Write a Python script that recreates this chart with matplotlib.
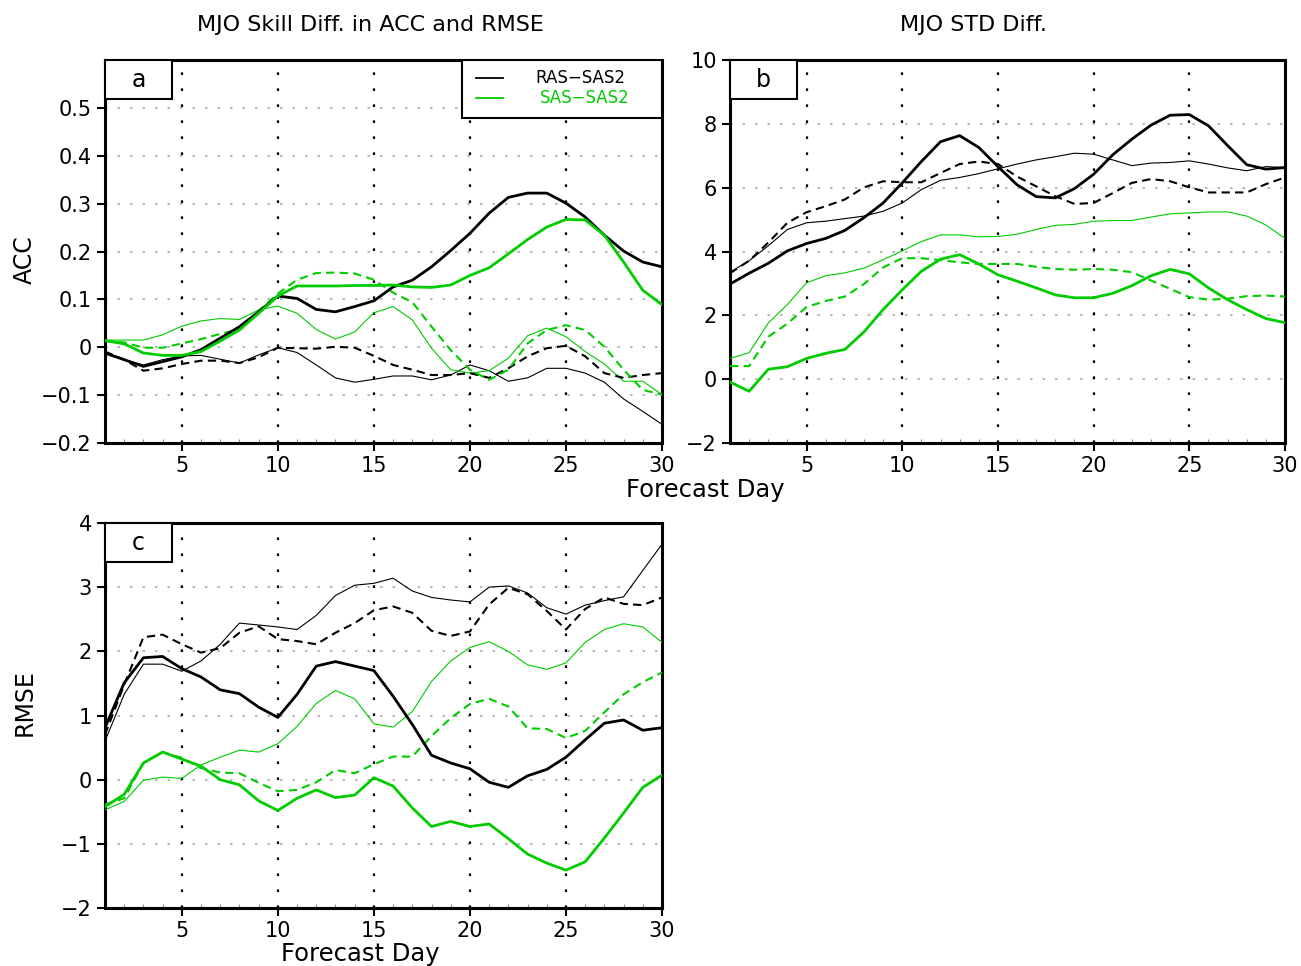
import matplotlib
matplotlib.use("Agg")
import matplotlib.pyplot as plt
from matplotlib.patches import Rectangle
from matplotlib.lines import Line2D
import numpy as np

days = list(range(1, 31))

# Panel a: ACC differences
acc_ras_thick = [-0.012, -0.026, -0.04, -0.03, -0.02, -0.005, 0.019, 0.043, 0.074, 0.107,
                 0.102, 0.079, 0.074, 0.085, 0.097, 0.126, 0.14, 0.168, 0.202, 0.238,
                 0.28, 0.313, 0.322, 0.322, 0.301, 0.272, 0.234, 0.201, 0.178, 0.168]
acc_ras_thin = [-0.014, -0.026, -0.037, -0.026, -0.018, -0.017, -0.025, -0.033, -0.016, -0.001,
                -0.011, -0.037, -0.064, -0.073, -0.067, -0.06, -0.06, -0.068, -0.058, -0.037,
                -0.049, -0.071, -0.064, -0.044, -0.044, -0.054, -0.073, -0.108, -0.134, -0.161]
acc_ras_dash = [-0.009, -0.026, -0.049, -0.044, -0.035, -0.028, -0.028, -0.033, -0.021, -0.001,
                -0.002, -0.003, 0.001, -0.001, -0.018, -0.037, -0.047, -0.058, -0.058, -0.054,
                -0.064, -0.044, -0.019, -0.002, 0.003, -0.019, -0.054, -0.064, -0.058, -0.054]
acc_sas_thick = [0.014, 0.007, -0.012, -0.017, -0.017, -0.009, 0.013, 0.036, 0.071, 0.107,
                 0.128, 0.128, 0.128, 0.129, 0.129, 0.13, 0.126, 0.125, 0.13, 0.15,
                 0.166, 0.195, 0.225, 0.251, 0.267, 0.266, 0.234, 0.178, 0.119, 0.089]
acc_sas_thin = [0.015, 0.015, 0.015, 0.026, 0.044, 0.055, 0.06, 0.058, 0.078, 0.086,
                0.071, 0.037, 0.017, 0.032, 0.072, 0.085, 0.057, -0.002, -0.047, -0.054,
                -0.049, -0.023, 0.024, 0.04, 0.022, -0.009, -0.035, -0.071, -0.071, -0.099]
acc_sas_dash = [0.013, 0.01, -0.001, -0.001, 0.008, 0.017, 0.028, 0.037, 0.076, 0.112,
                0.141, 0.155, 0.156, 0.154, 0.141, 0.114, 0.094, 0.043, -0.006, -0.047,
                -0.068, -0.047, 0.008, 0.036, 0.046, 0.036, 0.001, -0.047, -0.089, -0.099]

# Panel b: STD differences
std_ras_thick = [2.98, 3.32, 3.63, 4.02, 4.25, 4.41, 4.66, 5.06, 5.52, 6.15,
                 6.82, 7.44, 7.63, 7.26, 6.66, 6.09, 5.72, 5.68, 5.97, 6.42,
                 7.03, 7.52, 7.96, 8.27, 8.29, 7.94, 7.32, 6.72, 6.58, 6.63]
std_ras_thin = [3.35, 3.71, 4.18, 4.69, 4.9, 4.95, 5.03, 5.11, 5.26, 5.52,
                5.94, 6.23, 6.32, 6.44, 6.59, 6.74, 6.87, 6.97, 7.08, 7.05,
                6.87, 6.69, 6.77, 6.79, 6.84, 6.74, 6.62, 6.53, 6.66, 6.63]
std_ras_dash = [3.32, 3.71, 4.28, 4.9, 5.23, 5.42, 5.63, 6.01, 6.2, 6.17,
                6.17, 6.46, 6.74, 6.82, 6.74, 6.35, 6.04, 5.73, 5.49, 5.52,
                5.83, 6.15, 6.27, 6.2, 6.01, 5.85, 5.85, 5.85, 6.11, 6.32]
std_sas_thick = [-0.09, -0.38, 0.31, 0.39, 0.65, 0.81, 0.93, 1.48, 2.18, 2.8,
                 3.38, 3.76, 3.9, 3.61, 3.27, 3.07, 2.86, 2.64, 2.55, 2.55,
                 2.69, 2.93, 3.24, 3.44, 3.3, 2.86, 2.49, 2.18, 1.9, 1.77]
std_sas_thin = [0.65, 0.83, 1.76, 2.34, 3.02, 3.24, 3.33, 3.48, 3.74, 4.02,
                4.31, 4.52, 4.52, 4.46, 4.47, 4.54, 4.69, 4.82, 4.85, 4.95,
                4.97, 4.97, 5.08, 5.18, 5.21, 5.24, 5.24, 5.11, 4.83, 4.41]
std_sas_dash = [0.41, 0.41, 1.33, 1.74, 2.26, 2.45, 2.59, 2.98, 3.5, 3.79,
                3.79, 3.73, 3.66, 3.61, 3.61, 3.61, 3.52, 3.45, 3.43, 3.45,
                3.43, 3.35, 3.09, 2.83, 2.57, 2.49, 2.52, 2.6, 2.62, 2.59]

# Panel c: RMSE differences
rmse_ras_thick = [0.81, 1.51, 1.9, 1.92, 1.73, 1.6, 1.4, 1.34, 1.13, 0.97,
                  1.33, 1.77, 1.84, 1.77, 1.7, 1.3, 0.86, 0.38, 0.26, 0.17,
                  -0.04, -0.12, 0.06, 0.16, 0.35, 0.62, 0.88, 0.93, 0.77, 0.81]
rmse_ras_thin = [0.6, 1.33, 1.8, 1.8, 1.69, 1.85, 2.11, 2.44, 2.41, 2.38,
                 2.34, 2.56, 2.87, 3.03, 3.06, 3.14, 2.94, 2.84, 2.8, 2.77,
                 3.0, 3.02, 2.91, 2.68, 2.58, 2.72, 2.79, 2.85, 3.26, 3.67]
rmse_ras_dash = [0.7, 1.48, 2.22, 2.26, 2.11, 1.98, 2.05, 2.29, 2.39, 2.19,
                 2.16, 2.11, 2.29, 2.44, 2.64, 2.7, 2.6, 2.32, 2.24, 2.31,
                 2.73, 2.99, 2.89, 2.63, 2.34, 2.66, 2.84, 2.74, 2.72, 2.84]
rmse_sas_thick = [-0.42, -0.23, 0.26, 0.43, 0.32, 0.21, 0.0, -0.08, -0.33, -0.48,
                  -0.29, -0.16, -0.28, -0.24, 0.03, -0.1, -0.44, -0.73, -0.65, -0.73,
                  -0.69, -0.92, -1.16, -1.3, -1.41, -1.28, -0.91, -0.52, -0.12, 0.07]
rmse_sas_thin = [-0.47, -0.34, -0.01, 0.04, 0.02, 0.23, 0.35, 0.46, 0.43, 0.56,
                 0.83, 1.19, 1.39, 1.26, 0.87, 0.82, 1.06, 1.53, 1.85, 2.06,
                 2.15, 2.0, 1.79, 1.72, 1.82, 2.14, 2.34, 2.43, 2.38, 2.14]
rmse_sas_dash = [-0.39, -0.29, 0.26, 0.43, 0.34, 0.18, 0.11, 0.1, -0.05, -0.18,
                 -0.16, -0.04, 0.15, 0.1, 0.24, 0.36, 0.36, 0.68, 0.96, 1.18,
                 1.26, 1.14, 0.8, 0.79, 0.65, 0.76, 1.05, 1.33, 1.52, 1.67]

x_ticks = [5, 10, 15, 20, 25, 30]
acc_ticks = [-0.2, -0.1, 0, 0.1, 0.2, 0.3, 0.4, 0.5]
acc_labels = ["\u22120.2", "\u22120.1", "0", "0.1", "0.2", "0.3", "0.4", "0.5"]
std_ticks = [-2, 0, 2, 4, 6, 8, 10]
rmse_ticks = [-2, -1, 0, 1, 2, 3, 4]

GREEN = "#00CC00"
TICKFONT = ["Liberation Sans Narrow", "DejaVu Sans"]

W, H = 1301, 966
fig = plt.figure(figsize=(W / 100, H / 100), dpi=100)


def ax_rect(x0, y0, x1, y1):
    return [x0 / W, 1 - y1 / H, (x1 - x0) / W, (y1 - y0) / H]


def fmt_label(v):
    s = ("%g" % v)
    return s.replace("-", "\u2212")


def setup(ax, ylim, yticks, ylabels, letter):
    ax.set_xlim(1, 30)
    ax.set_ylim(*ylim)
    ax.set_xticks(x_ticks)
    ax.set_xticks(days, minor=True)
    ax.set_yticks(yticks)
    ax.set_yticklabels(ylabels, fontfamily=TICKFONT, fontsize=15)
    ax.set_xticklabels([str(t) for t in x_ticks], fontfamily=TICKFONT, fontsize=15)
    ax.tick_params(axis="both", which="major", direction="out", length=6, width=1.5)
    ax.tick_params(axis="x", which="minor", direction="in", length=3, width=0.8, color="#888888")
    for s in ax.spines.values():
        s.set_linewidth(2.2)
    for yv in yticks:
        ax.axhline(yv, color="#aaaaaa", lw=1.2, ls=(0, (1.5, 6)), zorder=1)
    for xv in x_ticks[:-1]:
        ax.axvline(xv, color="black", lw=1.6, ls=(0, (1.2, 6)), zorder=1)
    # panel letter box
    ax.add_patch(Rectangle((0, 1 - 39 / 383), 67 / 557, 39 / 383, transform=ax.transAxes,
                           facecolor="white", edgecolor="black", lw=1.5, zorder=5,
                           clip_on=False))
    ax.text(33.5 / 557, 1 - 19.5 / 383, letter, transform=ax.transAxes, ha="center",
            va="center", fontsize=17, fontfamily="DejaVu Sans", zorder=6)


def plot_six(ax, rt, rn, rd, st, sn, sd):
    ax.plot(days, rn, color="black", lw=0.8, zorder=3)
    ax.plot(days, sn, color=GREEN, lw=0.8, zorder=3)
    ax.plot(days, rd, color="black", lw=1.5, ls=(0, (4, 2.5)), zorder=3)
    ax.plot(days, sd, color=GREEN, lw=1.5, ls=(0, (4, 2.5)), zorder=3)
    ax.plot(days, rt, color="black", lw=2.0, zorder=4)
    ax.plot(days, st, color=GREEN, lw=2.0, zorder=4)


# Panel a
axa = fig.add_axes(ax_rect(105, 60, 662, 443))
setup(axa, (-0.2, 0.6), acc_ticks, acc_labels, "a")
plot_six(axa, acc_ras_thick, acc_ras_thin, acc_ras_dash, acc_sas_thick, acc_sas_thin, acc_sas_dash)
# legend box
lx0, ly0 = (462 - 105) / 557, 1 - (118 - 60) / 383
axa.add_patch(Rectangle((lx0, ly0), 1 - lx0, 1 - ly0, transform=axa.transAxes,
                        facecolor="white", edgecolor="black", lw=1.5, zorder=5))
for yy, col, lab, tx in [(78, "black", "RAS\u2212SAS2", 535), (98, GREEN, "SAS\u2212SAS2", 540)]:
    yfrac = 1 - (yy - 60) / 383
    axa.add_line(Line2D([(476 - 105) / 557, (503 - 105) / 557], [yfrac, yfrac],
                        transform=axa.transAxes, color=col, lw=1.3, zorder=6))
    axa.text((tx - 105) / 557, yfrac, lab, transform=axa.transAxes, color=col,
             fontsize=12, fontfamily=TICKFONT, va="center", ha="left", zorder=6)

# Panel b
axb = fig.add_axes(ax_rect(730, 60, 1285, 443))
setup(axb, (-2, 10), std_ticks, [fmt_label(v) for v in std_ticks], "b")
plot_six(axb, std_ras_thick, std_ras_thin, std_ras_dash, std_sas_thick, std_sas_thin, std_sas_dash)

# Panel c
axc = fig.add_axes(ax_rect(105, 523, 662, 908))
setup(axc, (-2, 4), rmse_ticks, [fmt_label(v) for v in rmse_ticks], "c")
plot_six(axc, rmse_ras_thick, rmse_ras_thin, rmse_ras_dash, rmse_sas_thick, rmse_sas_thin, rmse_sas_dash)

# y labels
fig.text(25 / W, 1 - 260 / H, "ACC", rotation=90, ha="center", va="center",
         fontsize=17, fontfamily="DejaVu Sans")
fig.text(25 / W, 1 - 703 / H, "RMSE", rotation=90, ha="center", va="center",
         fontsize=17, fontfamily="DejaVu Sans")

# titles and shared labels
fig.text(370 / W, 1 - 25 / H, "MJO Skill Diff. in ACC and RMSE", ha="center", va="center",
         fontsize=16, fontfamily=TICKFONT)
fig.text(973 / W, 1 - 25 / H, "MJO STD Diff.", ha="center", va="center",
         fontsize=16, fontfamily=TICKFONT)
fig.text(705 / W, 1 - 490 / H, "Forecast Day", ha="center", va="center",
         fontsize=17.5, fontfamily="DejaVu Sans")
fig.text(360 / W, 1 - 954 / H, "Forecast Day", ha="center", va="center",
         fontsize=17.5, fontfamily="DejaVu Sans")

fig.savefig("out.png", dpi=100)
